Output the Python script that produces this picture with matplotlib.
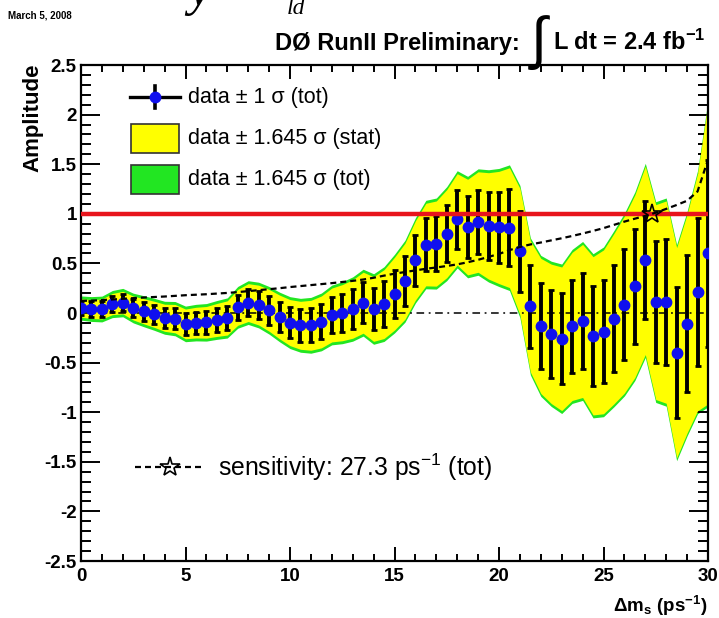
import numpy as np
import matplotlib

matplotlib.use("Agg")
import matplotlib.pyplot as plt
from matplotlib.patches import Rectangle
from matplotlib.ticker import MultipleLocator, FuncFormatter

plt.rcParams["font.family"] = ["Liberation Sans", "DejaVu Sans"]
plt.rcParams["mathtext.fontset"] = "custom"
plt.rcParams["mathtext.rm"] = "Liberation Sans"
plt.rcParams["mathtext.it"] = "Liberation Sans:italic"
plt.rcParams["mathtext.bf"] = "Liberation Sans:bold"
plt.rcParams["axes.unicode_minus"] = False

# amplitude scan, dm_s = 0 .. 30 ps^-1 in steps of 0.5
dm = np.linspace(0, 30, 61)
amp = np.array([
    0.05, 0.04, 0.04, 0.09, 0.105, 0.05, 0.018, -0.013, -0.048, -0.057,
    -0.11, -0.097, -0.094, -0.07, -0.05, 0.057, 0.105, 0.08, 0.027, -0.04,
    -0.097, -0.124, -0.124, -0.09, -0.02, 0.003, 0.04, 0.104, 0.04, 0.09,
    0.195, 0.32, 0.53, 0.69, 0.70, 0.80, 0.944, 0.866, 0.917, 0.878,
    0.862, 0.86, 0.62, 0.067, -0.13, -0.21, -0.26, -0.135, -0.08, -0.23,
    -0.19, -0.057, 0.085, 0.27, 0.53, 0.11, 0.11, -0.40, -0.107, 0.21,
    0.60,
])
sig_tot = np.array([
    0.074, 0.076, 0.079, 0.083, 0.087, 0.091, 0.095, 0.098, 0.101, 0.105,
    0.109, 0.112, 0.115, 0.119, 0.123, 0.128, 0.134, 0.140, 0.146, 0.152,
    0.159, 0.165, 0.171, 0.177, 0.183, 0.190, 0.197, 0.205, 0.216, 0.229,
    0.241, 0.251, 0.261, 0.271, 0.279, 0.288, 0.298, 0.311, 0.326, 0.344,
    0.362, 0.385, 0.405, 0.420, 0.432, 0.445, 0.458, 0.472, 0.487, 0.503,
    0.520, 0.540, 0.560, 0.578, 0.595, 0.615, 0.638, 0.662, 0.688, 0.745,
    0.940,
])
sig_stat = np.array([
    0.056, 0.058, 0.061, 0.065, 0.069, 0.073, 0.077, 0.080, 0.083, 0.087,
    0.091, 0.094, 0.097, 0.101, 0.105, 0.110, 0.116, 0.122, 0.128, 0.134,
    0.141, 0.147, 0.153, 0.159, 0.165, 0.172, 0.179, 0.187, 0.198, 0.211,
    0.223, 0.233, 0.243, 0.253, 0.261, 0.270, 0.280, 0.293, 0.308, 0.326,
    0.344, 0.367, 0.387, 0.402, 0.414, 0.427, 0.440, 0.454, 0.469, 0.485,
    0.502, 0.522, 0.542, 0.560, 0.577, 0.597, 0.620, 0.644, 0.670, 0.727,
    0.922,
])
n_sig = 1.645
sens_dm = 27.3
lumi = 2.4

green = "#22e622"
yellow = "#ffff00"
blue = "#1010ee"
red = "#e8141c"

fig = plt.figure(figsize=(7.19, 6.18), dpi=100)
ax = fig.add_axes([81 / 719, 57 / 618, 627 / 719, 496 / 618])

ax.fill_between(dm, amp - n_sig * sig_tot, amp + n_sig * sig_tot,
                color=green, lw=0, zorder=1)
ax.fill_between(dm, amp - n_sig * sig_stat, amp + n_sig * sig_stat,
                color=yellow, lw=0, zorder=2)
ax.axhline(0, color="black", lw=1.1, dashes=(5, 3, 1.2, 3), zorder=3)
ax.errorbar(dm, amp, yerr=sig_tot, fmt="o", ms=7.5, mfc=blue, mec=blue,
            ecolor="black", elinewidth=2.8, capsize=2.4, capthick=2, zorder=4)
ax.axhline(1, color=red, lw=3.2, zorder=5)
ax.plot(dm, n_sig * sig_tot, color="black", lw=1.6, dashes=(2.7, 1.8), zorder=6)
ax.plot([sens_dm], [1.0], marker="*", ms=15, mfc="none", mec="black",
        mew=1.2, zorder=7)

ax.set_xlim(0, 30)
ax.set_ylim(-2.5, 2.5)
ax.xaxis.set_major_locator(MultipleLocator(5))
ax.xaxis.set_minor_locator(MultipleLocator(1))
ax.yaxis.set_major_locator(MultipleLocator(0.5))
ax.yaxis.set_minor_locator(MultipleLocator(0.1))
ax.yaxis.set_major_formatter(FuncFormatter(lambda v, p: f"{v:g}"))
ax.tick_params(which="both", direction="in", top=True, right=True, width=1.4)
ax.tick_params(axis="y", which="major", length=13.5, pad=3, labelsize=13.5)
ax.tick_params(axis="y", which="minor", length=7.5)
ax.tick_params(axis="x", which="major", length=10, pad=5, labelsize=13.5)
ax.tick_params(axis="x", which="minor", length=5)
plt.setp(ax.get_xticklabels() + ax.get_yticklabels(), fontweight="bold")
for s in ax.spines.values():
    s.set_linewidth(1.6)

# legend, drawn by hand like the ROOT one
t = ax.transAxes
ax.plot([0.078, 0.158], [0.935, 0.935], transform=t, color="black", lw=2.4,
        clip_on=False, zorder=8)
ax.plot([0.118, 0.118], [0.913, 0.957], transform=t, color="black", lw=2.6,
        clip_on=False, zorder=8)
ax.plot([0.118], [0.935], "o", ms=7.5, color=blue, transform=t, zorder=9)
ax.add_patch(Rectangle((0.0797, 0.823), 0.0766, 0.058, transform=t,
                       fc=yellow, ec="#333333", lw=1.2, zorder=8))
ax.add_patch(Rectangle((0.0797, 0.740), 0.0766, 0.058, transform=t,
                       fc=green, ec="#333333", lw=1.2, zorder=8))
ax.text(0.171, 0.935, "data \u00b1 1 \u03c3 (tot)", transform=t,
        fontsize=15.5, va="center", zorder=9)
ax.text(0.171, 0.852, f"data \u00b1 {n_sig} \u03c3 (stat)", transform=t,
        fontsize=15.5, va="center", zorder=9)
ax.text(0.171, 0.769, f"data \u00b1 {n_sig} \u03c3 (tot)", transform=t,
        fontsize=15.5, va="center", zorder=9)

ax.plot([0.086, 0.195], [0.1895, 0.1895], transform=t, color="black", lw=1.6,
        dashes=(2.7, 1.8), zorder=8)
ax.plot([0.142], [0.1895], transform=t, marker="*", ms=15, mfc="none",
        mec="black", mew=1.2, zorder=9)
ax.text(0.2185, 0.1895, f"sensitivity: {sens_dm} ps$^{{-1}}$ (tot)",
        transform=t, fontsize=17.8, va="center", zorder=9)

# header and axis titles
fig.text(275 / 719, 1 - 50 / 618, "D\u00d8 RunII Preliminary:", fontsize=17,
         fontweight="bold", va="baseline")
fig.text(539 / 719, 1 - 43 / 618, "\u222b", fontsize=42, ha="center",
         va="center")
fig.text(705 / 719, 1 - 50 / 618, rf"L dt = {lumi} fb$^{{\mathbf{{-1}}}}$",
         fontsize=17, fontweight="bold", ha="right", va="baseline")
fig.text(8 / 719, 1 - 18 / 618, "March 5, 2008", fontsize=7,
         fontweight="bold", va="baseline")
fig.text(188 / 719, 1 - 5 / 618, "y", fontsize=36, family="Liberation Serif",
         style="italic", va="baseline")
fig.text(287 / 719, 1 - 14 / 618, "ld", fontsize=17, family="Liberation Serif",
         style="italic", va="baseline")
fig.text(33 / 719, 1 - 64 / 618, "Amplitude", rotation=90, fontsize=16,
         fontweight="bold", ha="center", va="top")
fig.text(707 / 719, 1 - 612 / 618, r"$\mathbf{\Delta m_s}$ (ps$^{\mathbf{-1}}$)",
         fontsize=13.5, fontweight="bold", ha="right", va="baseline")

fig.savefig("out.png", dpi=100)
